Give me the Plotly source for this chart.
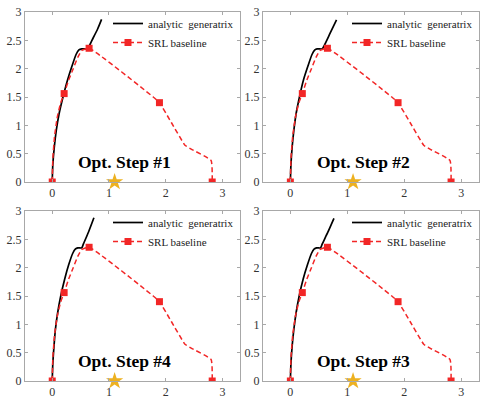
import plotly.graph_objects as go

# ---------------- data ----------------
panel_titles = ["Opt. Step #1", "Opt. Step #2", "Opt. Step #4", "Opt. Step #3"]

# analytic generatrix per panel (x, y)
gen_x1 = [0, 0.01, 0.035, 0.07, 0.12, 0.19, 0.27, 0.35, 0.42, 0.47, 0.52, 0.6, 0.64, 0.7, 0.8, 0.87]
gen_y1 = [0, 0.3, 0.6, 0.9, 1.2, 1.5, 1.8, 2.05, 2.25, 2.33, 2.35, 2.35, 2.38, 2.5, 2.7, 2.87]
gen_x2 = [0, 0.01, 0.03, 0.06, 0.1, 0.16, 0.23, 0.31, 0.38, 0.43, 0.47, 0.56, 0.6, 0.7, 0.81]
gen_y2 = [0, 0.3, 0.6, 0.9, 1.2, 1.5, 1.8, 2.05, 2.25, 2.33, 2.35, 2.35, 2.42, 2.63, 2.86]
gen_x4 = [0, 0.01, 0.03, 0.055, 0.095, 0.15, 0.22, 0.29, 0.36, 0.41, 0.45, 0.52, 0.55, 0.64, 0.735]
gen_y4 = [0, 0.3, 0.6, 0.9, 1.2, 1.5, 1.8, 2.05, 2.25, 2.33, 2.35, 2.35, 2.42, 2.63, 2.88]
gen_x3 = [0, 0.01, 0.03, 0.06, 0.1, 0.155, 0.225, 0.3, 0.37, 0.42, 0.46, 0.53, 0.56, 0.66, 0.765]
gen_y3 = [0, 0.3, 0.6, 0.9, 1.2, 1.5, 1.8, 2.05, 2.25, 2.33, 2.35, 2.35, 2.42, 2.63, 2.87]
gen_xs = [gen_x1, gen_x2, gen_x4, gen_x3]
gen_ys = [gen_y1, gen_y2, gen_y4, gen_y3]

# SRL baseline path and its control points
srl_x = [0, 0.01, 0.04, 0.09, 0.15, 0.21, 0.29, 0.37, 0.45, 0.52, 0.65, 1.78, 1.89, 2.1, 2.34, 2.45, 2.8, 2.82]
srl_y = [0, 0.4, 0.8, 1.15, 1.4, 1.56, 1.8, 2.0, 2.2, 2.32, 2.36, 1.5, 1.4, 1.05, 0.65, 0.58, 0.38, 0]
mark_x = [0, 0.21, 0.65, 1.89, 2.82]
mark_y = [0, 1.56, 2.36, 1.4, 0]

star_x = [1.1]
star_y = [0]

x_ticks = [0, 1, 2, 3]
y_ticks = [0, 0.5, 1, 1.5, 2, 2.5, 3]
y_tick_text = ["0", "0.5", "1", "1.5", "2", "2.5", "3"]

# ---------------- layout geometry ----------------
W, H = 480, 402
col_px = [(25, 240), (263, 479)]
row_px = [(12, 182), (211, 381)]
RED = "rgb(242,38,38)"
GOLD = "#EDB120"
FONT = "Liberation Serif"

fig = go.Figure()
layout = dict(width=W, height=H, margin=dict(l=0, r=0, t=0, b=0, autoexpand=False),
              paper_bgcolor="white", plot_bgcolor="white", showlegend=True,
              font=dict(family=FONT, color="#333333", size=12))

for i in range(4):
    r, c = divmod(i, 2)
    n = "" if i == 0 else str(i + 1)
    xa, ya = "x" + n, "y" + n
    leg = "legend" if i == 0 else "legend" + str(i + 1)
    x0, x1 = col_px[c]
    y0, y1 = row_px[r]
    xd = [x0 / W, x1 / W]
    yd = [1 - y1 / H, 1 - y0 / H]
    axis_common = dict(showgrid=False, zeroline=False, showline=True, linecolor="#a8a8a8",
                       linewidth=1, mirror="ticks", ticks="inside", ticklen=3,
                       tickcolor="#a8a8a8", tickfont=dict(family=FONT, size=12, color="#333333"))
    layout["xaxis" + n] = dict(domain=xd, range=[-0.48, 3.31], tickvals=x_ticks,
                               anchor=ya, **axis_common)
    layout["yaxis" + n] = dict(domain=yd, range=[0, 3], tickvals=y_ticks, ticktext=y_tick_text,
                               anchor=xa, **axis_common)
    layout[leg] = dict(x=(x1 - 1) / W, y=1 - (y0 - 3) / H, xanchor="right", yanchor="top",
                       bgcolor="rgba(0,0,0,0)", font=dict(family=FONT, size=11, color="#222"),
                       itemwidth=30, tracegroupgap=0)

    fig.add_trace(go.Scatter(x=gen_xs[i], y=gen_ys[i], mode="lines", xaxis=xa, yaxis=ya,
                             line=dict(color="black", width=1.7, shape="spline", smoothing=0.6),
                             name="analytic  generatrix", legend=leg, showlegend=True))
    fig.add_trace(go.Scatter(x=srl_x, y=srl_y, mode="lines", xaxis=xa, yaxis=ya,
                             line=dict(color=RED, width=1.5, dash="5px,3px", shape="spline", smoothing=0.4),
                             showlegend=False, hoverinfo="skip"))
    fig.add_trace(go.Scatter(x=mark_x, y=mark_y, mode="markers", xaxis=xa, yaxis=ya,
                             marker=dict(symbol="square", size=7, color=RED),
                             showlegend=False))
    fig.add_trace(go.Scatter(x=[None], y=[None], mode="lines+markers", xaxis=xa, yaxis=ya,
                             line=dict(color=RED, width=1.5, dash="5px,3px"),
                             marker=dict(symbol="square", size=7, color=RED),
                             name="SRL baseline", legend=leg, showlegend=True))
    fig.add_trace(go.Scatter(x=star_x, y=star_y, mode="markers", xaxis=xa, yaxis=ya,
                             marker=dict(symbol="star", size=13, color=GOLD),
                             showlegend=False, cliponaxis=False))
    fig.add_annotation(x=1.28, y=0.36, xref=xa, yref=ya, text="<b>" + panel_titles[i] + "</b>",
                       showarrow=False, font=dict(family=FONT, size=17.5, color="black"))

fig.update_layout(**layout)
fig.write_html("out.html", config={"displayModeBar": False},
               post_script="document.body.style.margin='0';document.body.style.overflow='hidden';")
